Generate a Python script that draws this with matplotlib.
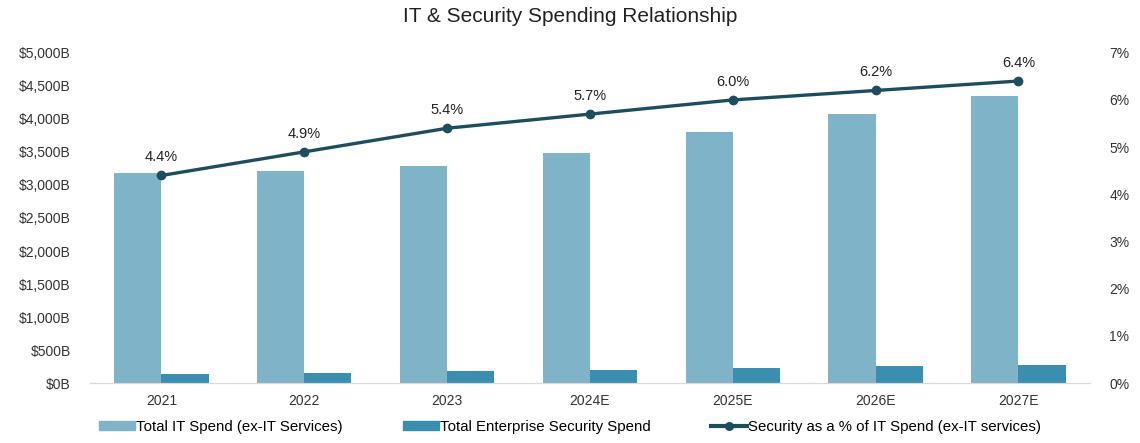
import numpy as np
import matplotlib.pyplot as plt
from matplotlib.ticker import FuncFormatter
from matplotlib.lines import Line2D
from matplotlib.patches import Patch

plt.rcParams['font.family'] = ['Liberation Sans', 'DejaVu Sans']

# Data
years = ['2021', '2022', '2023', '2024E', '2025E', '2026E', '2027E']
it_spend = [3176, 3215, 3291, 3488, 3805, 4073, 4350]        # $B, ex-IT services
security_spend = [140, 158, 178, 199, 228, 253, 278]         # $B
security_pct = [4.4, 4.9, 5.4, 5.7, 6.0, 6.2, 6.4]            # %

c_it = '#7fb3c8'
c_sec = '#3a8fb0'
c_line = '#1d4e5f'

fig = plt.figure(figsize=(11.4, 4.43), dpi=100)
ax = fig.add_axes([0.079, 0.135, 0.877, 0.746])
ax2 = ax.twinx()

x = np.arange(len(years))
w = 0.33
ax.bar(x - w / 2, it_spend, width=w, color=c_it, zorder=2)
ax.bar(x + w / 2, security_spend, width=w, color=c_sec, zorder=2)

ax.set_xlim(-0.5, len(years) - 0.5)
ax.set_ylim(0, 5000)
ax.set_yticks(np.arange(0, 5001, 500))
ax.yaxis.set_major_formatter(FuncFormatter(lambda v, p: f'${v:,.0f}B'))
ax.set_xticks(x)
ax.set_xticklabels(years)

ax2.plot(x, security_pct, color=c_line, lw=2.4, marker='o', ms=6, zorder=3)
for xi, v in zip(x, security_pct):
    ax2.annotate(f'{v:.1f}%', (xi, v), xytext=(0, 8), textcoords='offset points',
                 ha='center', va='bottom', fontsize=10.5, color='#222222')
ax2.set_ylim(0, 7)
ax2.set_yticks(range(0, 8))
ax2.yaxis.set_major_formatter(FuncFormatter(lambda v, p: f'{v:.0f}%'))

for a in (ax, ax2):
    for s in ('top', 'left', 'right'):
        a.spines[s].set_visible(False)
    a.spines['bottom'].set_color('#d9d9d9')
    a.tick_params(length=0, labelsize=10, colors='#333333')
ax.tick_params(axis='y', pad=14)
ax2.tick_params(axis='y', pad=14)
ax.tick_params(axis='x', pad=8)

fig.suptitle('IT & Security Spending Relationship', y=0.985, fontsize=15, color='#222222')

handles = [
    Patch(color=c_it, label='Total IT Spend (ex-IT Services)'),
    Patch(color=c_sec, label='Total Enterprise Security Spend'),
    Line2D([0], [0], color=c_line, lw=3, marker='o', ms=5.5,
           label='Security as a % of IT Spend (ex-IT services)'),
]
fig.legend(handles=handles, loc='lower center', bbox_to_anchor=(0.5, -0.01), ncol=3,
           frameon=False, fontsize=10.8, handlelength=2.4, handleheight=0.5,
           handletextpad=0.1, columnspacing=4.0)

fig.savefig('out.png', dpi=100)
